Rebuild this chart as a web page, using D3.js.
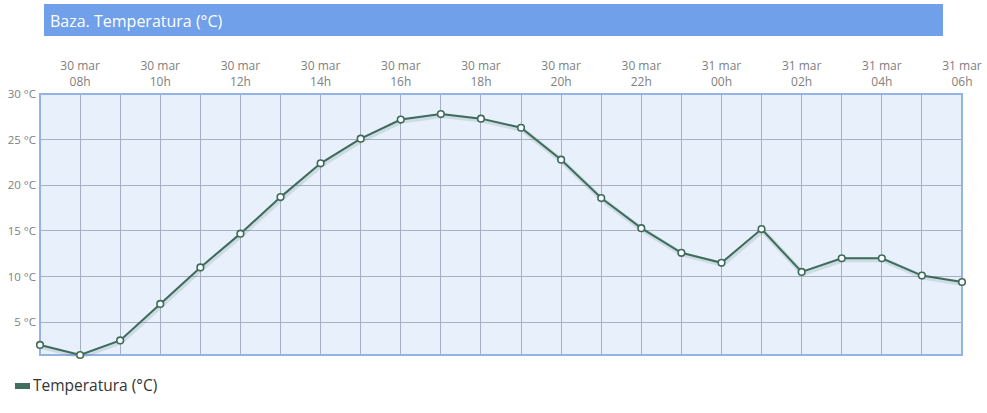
<!DOCTYPE html>
<html><head><meta charset="utf-8">
<script src="https://cdn.jsdelivr.net/npm/d3@7"></script>
<style>
html,body{margin:0;padding:0;background:#fff;}
svg{display:block;font-family:"Open Sans",sans-serif;}
</style></head>
<body><svg id="c" width="987" height="413"></svg>
<script>
const titleText = "Baza. Temperatura (°C)";
const seriesName = "Temperatura (°C)";
const days = ["30 mar","30 mar","30 mar","30 mar","30 mar","30 mar","30 mar","30 mar","30 mar","30 mar","30 mar","30 mar","30 mar","30 mar","30 mar","30 mar","30 mar","31 mar","31 mar","31 mar","31 mar","31 mar","31 mar","31 mar"];
const hours = ["07h","08h","09h","10h","11h","12h","13h","14h","15h","16h","17h","18h","19h","20h","21h","22h","23h","00h","01h","02h","03h","04h","05h","06h"];
const temps = [2.5,1.4,3.0,7.0,11.0,14.7,18.7,22.4,25.1,27.2,27.8,27.3,26.3,22.8,18.6,15.3,12.6,11.5,15.2,10.5,12.0,12.0,10.1,9.4];
const yTicks = [5,10,15,20,25,30];
const yMin = 1.4, yMax = 30;

const svg = d3.select("#c");
const L = 40, R = 962, T = 94, B = 355;

// title bar
svg.append("rect").attr("x",44).attr("y",4).attr("width",899).attr("height",32).attr("fill","#6fa0e9");
svg.append("text").attr("x",50).attr("y",27).attr("fill","#fff").attr("font-size",16).text(titleText);

const x = d3.scalePoint().domain(d3.range(temps.length)).range([L,R]);
const y = d3.scaleLinear().domain([yMin,yMax]).range([B,T]);

// plot background
svg.append("rect").attr("x",L).attr("y",T).attr("width",R-L).attr("height",B-T).attr("fill","#e7f0fb");

// grid
const g = svg.append("g");
g.selectAll(".vg").data(d3.range(temps.length)).join("line")
  .attr("x1",d=>x(d)).attr("x2",d=>x(d)).attr("y1",T).attr("y2",B)
  .attr("stroke","#a6b0c4").attr("stroke-width",1).attr("shape-rendering","crispEdges");
g.selectAll(".hg").data(yTicks).join("line")
  .attr("x1",L).attr("x2",R).attr("y1",d=>y(d)).attr("y2",d=>y(d))
  .attr("stroke","#a6b0c4").attr("stroke-width",1).attr("shape-rendering","crispEdges");

// border
svg.append("rect").attr("x",L).attr("y",T).attr("width",R-L).attr("height",B-T)
  .attr("fill","none").attr("stroke","#94b2e4").attr("stroke-width",2);

// y labels
svg.selectAll(".yl").data(yTicks).join("text")
  .attr("x",36).attr("y",d=>y(d)+4).attr("text-anchor","end")
  .attr("font-size",11.5).attr("fill","#808080").text(d=>d+" °C");

// x labels every 2 hours
const xl = d3.range(1,temps.length,2);
svg.selectAll(".xl1").data(xl).join("text")
  .attr("x",d=>x(d)).attr("y",70).attr("text-anchor","middle")
  .attr("font-size",12).attr("fill","#808080").text(d=>days[d]);
svg.selectAll(".xl2").data(xl).join("text")
  .attr("x",d=>x(d)).attr("y",86).attr("text-anchor","middle")
  .attr("font-size",12).attr("fill","#808080").text(d=>hours[d]);

// line with shadow
const line = d3.line().x((d,i)=>x(i)).y(d=>y(d));
svg.append("path").datum(temps).attr("d",line).attr("fill","none")
  .attr("stroke","#3d6b5a").attr("stroke-opacity",0.15).attr("stroke-width",5)
  .attr("transform","translate(1,1.5)");
svg.append("path").datum(temps).attr("d",line).attr("fill","none")
  .attr("stroke","#3f6b5c").attr("stroke-width",2);
svg.selectAll(".pt").data(temps).join("circle")
  .attr("cx",(d,i)=>x(i)).attr("cy",d=>y(d)).attr("r",3.3)
  .attr("fill","#fff").attr("stroke","#3f6b5c").attr("stroke-width",1.6);

// legend
svg.append("rect").attr("x",15).attr("y",383).attr("width",15).attr("height",6).attr("fill","#3f6f5f");
svg.append("text").attr("x",33).attr("y",391).attr("font-size",15.5).attr("fill","#333").text(seriesName);
</script></body></html>
